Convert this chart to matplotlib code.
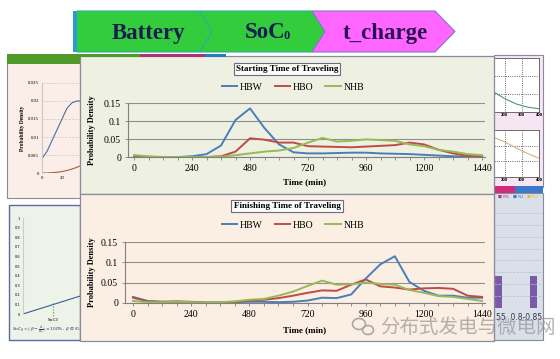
import matplotlib
matplotlib.use("Agg")
import matplotlib.pyplot as plt
from matplotlib.patches import Rectangle, Polygon, Ellipse
from matplotlib.lines import Line2D

W, H = 560, 359

# ---------------- data ----------------
time_min = [0, 60, 120, 180, 240, 300, 360, 420, 480, 540, 600, 660, 720,
            780, 840, 900, 960, 1020, 1080, 1140, 1200, 1260, 1320, 1380, 1440]
x_ticks = [0, 240, 480, 720, 960, 1200, 1440]
y_ticks = [0, 0.05, 0.1, 0.15]
y_ticklabels = ["0", "0.05", "0.1", "0.15"]
series_names = ["HBW", "HBO", "NHB"]

start_hbw = [0.003, 0.000, 0.000, 0.000, 0.002, 0.008, 0.032, 0.103, 0.135, 0.080,
             0.035, 0.013, 0.010, 0.010, 0.011, 0.012, 0.012, 0.010, 0.009, 0.008,
             0.006, 0.004, 0.002, 0.001, 0.001]
start_hbo = [0.004, 0.000, 0.000, 0.000, 0.000, 0.000, 0.002, 0.015, 0.052, 0.048,
             0.040, 0.040, 0.030, 0.029, 0.028, 0.027, 0.029, 0.031, 0.033, 0.040,
             0.035, 0.020, 0.010, 0.003, 0.002]
start_nhb = [0.005, 0.002, 0.000, 0.000, 0.000, 0.000, 0.001, 0.005, 0.010, 0.015,
             0.018, 0.025, 0.040, 0.053, 0.043, 0.045, 0.049, 0.047, 0.045, 0.035,
             0.030, 0.020, 0.015, 0.008, 0.005]

finish_hbw = [0.015, 0.005, 0.003, 0.003, 0.002, 0.001, 0.001, 0.002, 0.003, 0.003,
              0.002, 0.003, 0.006, 0.013, 0.012, 0.021, 0.060, 0.095, 0.115, 0.052,
              0.030, 0.018, 0.018, 0.013, 0.013]
finish_hbo = [0.013, 0.004, 0.003, 0.004, 0.003, 0.001, 0.001, 0.003, 0.006, 0.008,
              0.012, 0.018, 0.025, 0.031, 0.030, 0.045, 0.058, 0.041, 0.038, 0.033,
              0.036, 0.037, 0.035, 0.018, 0.015]
finish_nhb = [0.005, 0.002, 0.002, 0.003, 0.002, 0.001, 0.002, 0.004, 0.008, 0.010,
              0.018, 0.028, 0.042, 0.055, 0.045, 0.046, 0.050, 0.047, 0.045, 0.032,
              0.025, 0.017, 0.015, 0.010, 0.005]

# background mini-chart data (left/right panels)
mini_x = [0, 5, 10, 15, 20, 25, 30, 35, 40]
mini_blue = [0.004, 0.006, 0.009, 0.012, 0.015, 0.018, 0.0195, 0.020, 0.020]
mini_red = [0.0, 0.0, 0.0001, 0.0002, 0.0004, 0.0007, 0.0011, 0.0016, 0.0022]
mini_yticks = [0, 0.005, 0.01, 0.015, 0.02, 0.025]
soc_x = [0, 1, 2, 3]
soc_y = [0.0, 0.09, 0.18, 0.27]
soc_ticks = [0, 0.1, 0.2, 0.3, 0.4, 0.5, 0.6, 0.7, 0.8, 0.9, 1]
bar_pos = [0, 1]
bar_vals = [0.4, 0.4]
decay_x = [0, 1, 2, 3, 4, 5, 6]
decay_g = [0.75, 0.55, 0.38, 0.25, 0.15, 0.09, 0.06]
decay_t = [0.95, 0.92, 0.85, 0.75, 0.62, 0.50, 0.40]

COLORS = {"HBW": "#4a7ebb", "HBO": "#be4b48", "NHB": "#98b954"}
SERIF = ["Liberation Serif", "DejaVu Serif"]

fig = plt.figure(figsize=(W / 100, H / 100), dpi=100)
fig.patch.set_facecolor("white")


def fxy(x, y):
    return (x / W, 1 - y / H)


def rect(x0, y0, x1, y1, z=1, **kw):
    r = Rectangle(fxy(x0, y1), (x1 - x0) / W, (y1 - y0) / H,
                  transform=fig.transFigure, zorder=z, **kw)
    fig.add_artist(r)
    return r


def poly(pts, z=1, **kw):
    p = Polygon([fxy(x, y) for x, y in pts], closed=True,
                transform=fig.transFigure, zorder=z, **kw)
    fig.add_artist(p)
    return p


def ax_px(l, t, r, b, z=1):
    a = fig.add_axes([l / W, 1 - b / H, (r - l) / W, (b - t) / H])
    a.set_zorder(z)
    return a


def ftext(x, y, s, z=5, **kw):
    return fig.text(x / W, 1 - y / H, s, zorder=z, **kw)


# ---------------- left background panels ----------------
rect(7, 56, 80, 198, z=1, facecolor="#fbeee8", edgecolor="#8a8a9a", lw=0.8)
rect(7, 54, 80, 64, z=1.1, facecolor="#4f9a2a", edgecolor="none")
am = ax_px(42, 83, 100, 173, z=1.2)
am.set_facecolor("none")
am.plot(mini_x, mini_blue, color="#4a6fa0", lw=0.8)
am.plot(mini_x, mini_red, color="#b05a4a", lw=0.8)
am.set_ylim(0, 0.025)
am.set_xlim(0, 58)
am.set_yticks(mini_yticks)
am.set_yticklabels(["0", "0.005", "0.01", "0.015", "0.02", "0.025"],
                   fontsize=3.5, family=SERIF)
am.set_xticks([0, 20])
am.set_xticklabels(["0", "20"], fontsize=3.5, family=SERIF)
am.tick_params(length=0, pad=2)
am.grid(axis="y", color="#c8c8c8", ls="--", lw=0.5)
for s in am.spines.values():
    s.set_visible(False)
am.spines["left"].set_visible(True)
am.spines["left"].set_color("#c8c8c8")
am.set_ylabel("Probability Density", fontsize=4, family=SERIF,
              fontweight="bold", labelpad=2)

rect(9, 205, 80, 340, z=1, facecolor="#eef3ea", edgecolor="#5c6aa0", lw=1.0)
asoc = ax_px(23, 218, 100, 314, z=1.2)
asoc.set_facecolor("none")
asoc.plot(soc_x, soc_y, color="#3a5a90", lw=0.8)
asoc.set_xlim(0, 2.8)
asoc.set_ylim(0, 1)
asoc.set_yticks(soc_ticks)
asoc.set_yticklabels([str(v) for v in soc_ticks], fontsize=2.5)
asoc.set_xticks([])
asoc.tick_params(length=0, pad=2)
for s in asoc.spines.values():
    s.set_visible(False)
asoc.spines["left"].set_visible(True)
asoc.spines["left"].set_color("#c8d0c8")
fig.add_artist(Line2D([53 / W, 53 / W], [1 - 303 / H, 1 - 317 / H],
                      transform=fig.transFigure, color="#2a9a3a",
                      ls=":", lw=0.8, zorder=1.3))
ftext(53, 320, "SoC$_0$", z=1.3, fontsize=3, ha="center", va="center")
ftext(12, 330, r"$SoC_0=\left(\beta-\frac{d}{d_e}\right)\times100\%,\ \beta\in(0.9$",
      z=1.3, fontsize=3.2, ha="left", va="center", color="#333355")

# ---------------- right background panels ----------------
rect(494, 55, 543, 187, z=1, facecolor="#f6e6f4", edgecolor="#8a8a9a", lw=0.8)
rect(494, 186, 515, 193, z=1.1, facecolor="#d02a7a", edgecolor="none")
rect(515, 186, 543, 193, z=1.1, facecolor="#3a7ac8", edgecolor="none")
for (t, b, ys, col) in [(58, 112, decay_g, "#4a9a6a"), (130, 177, decay_t, "#d8b080")]:
    ar = ax_px(470, t, 539, b, z=1.2)
    ar.set_facecolor("white")
    ar.plot(decay_x, ys, color=col, lw=0.8)
    ar.set_xlim(0, 6)
    ar.set_ylim(0, 1)
    ar.set_xticks([1.5, 3, 4.5, 6])
    ar.set_xticklabels(["100", "200", "300", "400"], fontsize=2.5,
                       fontweight="bold")
    ar.set_yticks([0.33, 0.66])
    ar.set_yticklabels([])
    ar.grid(color="#333333", ls=":", lw=0.6)
    ar.tick_params(length=0, pad=1)
    for s in ar.spines.values():
        s.set_color("#555555")
        s.set_linewidth(0.6)

rect(494, 193, 543, 340, z=1, facecolor="#d9e0ea", edgecolor="#8a8a9a", lw=0.8)
ab = ax_px(494, 205, 543, 308, z=1.2)
ab.set_facecolor("none")
ab.bar([p * 5 + 0.6 for p in bar_pos], bar_vals, width=1.0, color="#7a5aa8")
ab.set_xlim(0, 7)
ab.set_ylim(0, 1.3)
ab.set_yticks([0.15 * k for k in range(1, 9)])
ab.grid(axis="y", color="#b8c0cc", ls="--", lw=0.5)
ab.set_xticks([])
ab.set_yticklabels([])
ab.tick_params(length=0)
for s in ab.spines.values():
    s.set_visible(False)
ftext(496, 318, "55  0.8-0.85", z=1.3, fontsize=5.5, ha="left", va="center",
      color="#333344")
for xx, lab, c in [(498, "■ M1", "#c0307a"), (513, "■ N1", "#3a7ac8"),
                   (527, "■ N2", "#e8c040")]:
    ftext(xx, 197, lab, z=1.3, fontsize=3.0, ha="left", va="center", color=c)

# ---------------- main panels ----------------
rect(80, 56, 494, 194, z=2, facecolor="#eef0e2", edgecolor="#8a8a9a", lw=0.9)
rect(80, 194, 494, 341, z=2, facecolor="#fbeee3", edgecolor="#8a8a9a", lw=0.9)
rect(80, 54, 140, 57, z=2.1, facecolor="#4f9a2a", edgecolor="none")
rect(140, 54, 205, 57, z=2.1, facecolor="#b0307a", edgecolor="none")
rect(205, 54, 226, 57, z=2.1, facecolor="#2a7ac0", edgecolor="none")


def draw_chart(box, xlim, series, title, title_y, legend_y, label_y):
    l, t, r, b = box
    ax = ax_px(l, t, r, b, z=3)
    ax.set_facecolor("none")
    for name, vals in zip(series_names, series):
        ax.plot(time_min, vals, color=COLORS[name], lw=1.4, label=name,
                solid_joinstyle="round")
    ax.set_xlim(*xlim)
    ax.set_ylim(0, 0.15)
    ax.set_xticks(x_ticks)
    ax.set_xticklabels([str(v) for v in x_ticks], fontsize=7, family=SERIF)
    ax.set_xticks(time_min, minor=True)
    ax.set_yticks(y_ticks)
    ax.set_yticklabels(y_ticklabels, fontsize=7, family=SERIF)
    ax.tick_params(axis="x", which="both", length=2, width=0.6, color="#808080",
                   pad=3)
    ax.tick_params(axis="y", length=2, width=0.6, color="#808080", pad=3)
    ax.grid(axis="y", color="#8f8f8f", lw=0.8)
    ax.set_axisbelow(True)
    for s in ["top", "right"]:
        ax.spines[s].set_visible(False)
    for s in ["left", "bottom"]:
        ax.spines[s].set_color("#808080")
        ax.spines[s].set_linewidth(0.8)
    ax.set_xlabel("Time (min)", fontsize=6.5, family=SERIF, fontweight="bold")
    ax.xaxis.set_label_coords(((305 - l) / (r - l)), -(label_y - b) / (b - t))
    ax.set_ylabel("Probability Density", fontsize=6, family=SERIF,
                  fontweight="bold")
    ax.yaxis.set_label_coords((96 - l) / (r - l), 0.5)
    ftext(287, title_y, title, z=4, fontsize=6.5, family=SERIF,
          fontweight="bold", ha="center", va="center",
          bbox=dict(boxstyle="square,pad=0.25", facecolor="#fbfbf8",
                    edgecolor="#6a6a8a", lw=0.8))
    ax.legend(loc="center", bbox_to_anchor=fxy(293, legend_y),
              bbox_transform=fig.transFigure, ncol=3, frameon=False,
              prop={"family": SERIF, "size": 7}, handlelength=1.6,
              handletextpad=0.3, columnspacing=1.2)
    return ax


draw_chart((128, 103, 485, 157), (-25, 1452),
           [start_hbw, start_hbo, start_nhb],
           "Starting Time of Traveling", 69, 87, 178)
draw_chart((125, 242, 485, 303), (-33, 1452),
           [finish_hbw, finish_hbo, finish_nhb],
           "Finishing Time of Traveling", 206, 225, 326)

# ---------------- banner ----------------
rect(73, 11, 78, 52, z=6, facecolor="#2a9ad0", edgecolor="none")
poly([(77, 11), (200, 11), (212, 31.5), (200, 52), (77, 52)], z=6,
     facecolor="#33cc3c", edgecolor="#2ab0a0", lw=0.8)
poly([(200, 11), (312, 11), (325, 31.5), (312, 52), (200, 52), (212, 31.5)], z=6,
     facecolor="#33cc3c", edgecolor="#2ab0a0", lw=0.8)
poly([(312, 11), (435, 11), (455, 31.5), (435, 52), (312, 52), (325, 31.5)], z=6,
     facecolor="#ff66ff", edgecolor="#7a7ac8", lw=0.8)
ftext(148, 33, "Battery", z=7, fontsize=16.5, family=SERIF, fontweight="bold",
      ha="center", va="center", color="#1c1c50")
ftext(265, 33, "SoC", z=7, fontsize=16.5, family=SERIF,
      fontweight="bold", ha="center", va="center", color="#1c1c50")
ftext(284, 36, "0", z=7, fontsize=9, family=SERIF,
      fontweight="bold", ha="left", va="center", color="#1c1c50")
ftext(385, 33, "t_charge", z=7, fontsize=16.5, family=SERIF, fontweight="bold",
      ha="center", va="center", color="#2a1050")

# ---------------- watermark ----------------
fig.add_artist(Ellipse(fxy(359, 324), 13 / W, 11 / H, transform=fig.transFigure,
                       facecolor="none", edgecolor="#a8a8a8", lw=1.2, zorder=8))
fig.add_artist(Ellipse(fxy(368, 330), 11 / W, 9 / H, transform=fig.transFigure,
                       facecolor="none", edgecolor="#a8a8a8", lw=1.2, zorder=8))
ftext(380, 327, "分布式发电与微电网", z=8, fontsize=14,
      family=["Noto Sans CJK SC", "DejaVu Sans"], ha="left", va="center",
      color="#9a9a9a", alpha=0.75)

fig.savefig("out.png", dpi=100)
